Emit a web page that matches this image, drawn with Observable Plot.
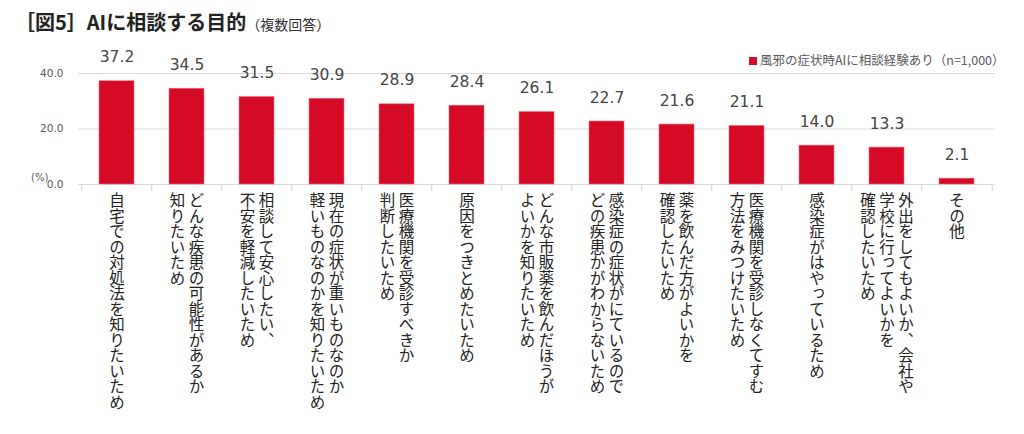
<!DOCTYPE html>
<html><head><meta charset="utf-8">
<script src="https://cdn.jsdelivr.net/npm/d3@7"></script>
<script src="https://cdn.jsdelivr.net/npm/@observablehq/plot@0.6"></script>
<style>
html,body{margin:0;padding:0;background:#fff;}
body{width:1024px;height:434px;overflow:hidden;position:relative;font-family:"Noto Sans CJK JP",sans-serif;}
#title{position:absolute;left:15px;top:6px;font-size:20px;font-weight:bold;color:#222;white-space:nowrap;line-height:32px;}
#title span{font-size:14px;font-weight:normal;color:#333;}
#legend{position:absolute;left:749px;top:51px;font-size:12.5px;color:#595959;white-space:nowrap;line-height:18px;}
#legend i{display:inline-block;width:8px;height:8px;background:#d50b25;margin-right:3px;vertical-align:0px;}
#unit{position:absolute;left:31px;top:172px;font-size:10px;color:#595959;font-family:"DejaVu Sans",sans-serif;}
#chart{position:absolute;left:0;top:0;}
text.vlabel{writing-mode:vertical-rl;text-orientation:upright;}
</style></head>
<body>
<div id="chart"></div>
<div id="title">［図5］AIに相談する目的<span>（複数回答）</span></div>
<div id="legend"><i></i><span id="legendText"></span></div>
<div id="unit">(%)</div>
<script>
const categories = [
  "自宅での対処法を知りたいため",
  "どんな疾患の可能性があるか\n知りたいため",
  "相談して安心したい、\n不安を軽減したいため",
  "現在の症状が重いものなのか\n軽いものなのかを知りたいため",
  "医療機関を受診すべきか\n判断したいため",
  "原因をつきとめたいため",
  "どんな市販薬を飲んだほうが\nよいかを知りたいため",
  "感染症の症状がにているので\nどの疾患かがわからないため",
  "薬を飲んだ方がよいかを\n確認したいため",
  "医療機関を受診しなくてすむ\n方法をみつけたいため",
  "感染症がはやっているため",
  "外出をしてもよいか、会社や\n学校に行ってよいかを\n確認したいため",
  "その他"
];
const values = [37.2, 34.5, 31.5, 30.9, 28.9, 28.4, 26.1, 22.7, 21.6, 21.1, 14.0, 13.3, 2.1];
const yTicks = [0, 20, 40];
const seriesName = "風邪の症状時AIに相談経験あり（n=1,000）";

document.getElementById("legendText").textContent = seriesName;

const data = categories.map((c, i) => ({cat: c, value: values[i]}));

const W = 1024, H = 434, mL = 78, mR = 29, mT = 73, mB = 250;
const step = (W - mL - mR) / categories.length;
const lineGap = 19;

// split labels into vertical columns
const rows = [];
categories.forEach(c => {
  const lines = c.split("\n");
  const n = lines.length;
  lines.forEach((t, i) => rows.push({cat: c, text: t, off: ((n - 1) / 2 - i) * lineGap}));
});
const labelSet = new Set(rows.map(d => d.text));
const labelMarks = d3.groups(rows, d => d.off).map(([off, rs]) =>
  Plot.text(rs, {x: "cat", text: "text", frameAnchor: "bottom", dx: off, dy: 8,
    textAnchor: "start", lineAnchor: "bottom", fontSize: 15.5, fill: "#222",
    fontFamily: "Noto Sans CJK JP"})
);

const chart = Plot.plot({
  width: W, height: H,
  marginLeft: mL, marginRight: mR, marginTop: mT, marginBottom: mB,
  style: {fontFamily: "DejaVu Sans", background: "#fff"},
  x: {domain: categories, paddingInner: 0.5, paddingOuter: 0.25, axis: null},
  y: {domain: [0, 40], axis: null},
  marks: [
    Plot.gridY(yTicks.filter(d => d > 0), {stroke: "#d9d9d9", strokeOpacity: 1, strokeWidth: 1.2}),
    Plot.ruleY([0], {stroke: "#d9d9d9", strokeWidth: 1.2}),
    Plot.ruleX(categories, {x: d => d, dx: -step / 2, y1: 0, insetBottom: -7, stroke: "#d9d9d9", strokeWidth: 1.2}),
    Plot.ruleX(categories.slice(-1), {x: d => d, dx: step / 2, y1: 0, insetBottom: -7, stroke: "#d9d9d9", strokeWidth: 1.2}),
    Plot.axisY(yTicks, {label: null, tickSize: 0, tickPadding: 15, tickFormat: d => d.toFixed(1), fontSize: 10.5, color: "#595959", fill: "#595959"}),
    Plot.barY(data, {x: "cat", y: "value", fill: "#d50b25", stroke: "#f06a7c", strokeWidth: 0.6}),
    Plot.text(data, {x: "cat", y: "value", text: d => d.value.toFixed(1), dy: -19, lineAnchor: "bottom",
      fontSize: 15.5, fill: "#444"}),
    ...labelMarks
  ]
});
document.getElementById("chart").appendChild(chart);
d3.select(chart).selectAll("text")
  .filter(function() { return labelSet.has(this.textContent); })
  .classed("vlabel", true)
  .attr("writing-mode", "vertical-rl")
  .style("writing-mode", "vertical-rl")
  .style("text-orientation", "upright")
  .attr("y", null);
</script>
</body></html>
